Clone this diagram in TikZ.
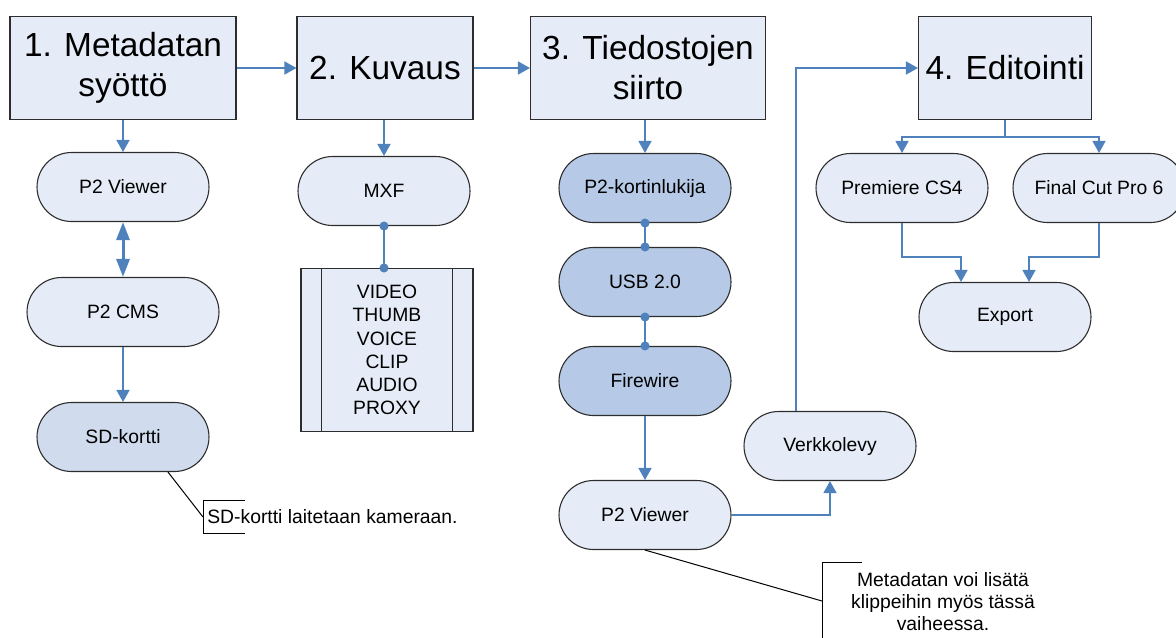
\documentclass[tikz,border=0pt]{standalone}
\usepackage{fontspec}
\setmainfont{Liberation Sans}
\usepackage{tikz}
\usetikzlibrary{arrows.meta}
\usetikzlibrary{shapes.misc}
\definecolor{paleblue}{RGB}{230,236,247}
\definecolor{cardblue}{RGB}{208,220,238}
\definecolor{busblue}{RGB}{182,201,230}
\definecolor{linkblue}{RGB}{79,129,189}
\definecolor{rim}{RGB}{45,45,45}
\tikzset{
	stage/.style={
		rectangle,
		draw=rim,
		fill=paleblue,
		line width=.22mm,
		minimum height=2.06cm,
		inner sep=0,
		align=center,
		font=\fontsize{19}{22.7}\selectfont,
	},
	pill/.style={
		rounded rectangle,
		draw=rim,
		fill=paleblue,
		line width=.22mm,
		minimum width=3.44cm,
		minimum height=1.38cm,
		inner sep=0,
		font=\fontsize{11}{12.8}\selectfont,
	},
	link/.style={
		draw=linkblue,
		line width=.3mm,
		-{Triangle[width=2.6mm,length=2.4mm]},
	},
	joint/.style={
		draw=linkblue,
		line width=.3mm,
		{Circle[length=1.8mm]}-{Circle[length=1.8mm]},
		shorten <=-.9mm,
		shorten >=-.9mm,
	},
	note/.style={
		line width=.2mm,
	},
	notetext/.style={
		inner sep=0,
		align=center,
		font=\fontsize{11}{12.5}\selectfont,
	}
}
\begin{document}
\begin{tikzpicture}[x=0.02cm,y=-0.02cm]
	\useasboundingbox (0,0) rectangle (1176,637);
	\clip (0,0) rectangle (1176,637);

	\node[stage,minimum width=4.52cm] (s1) at (123,68) {1. Metadatan\\syöttö};
	\node[stage,minimum width=3.52cm] (s2) at (385,68) {2. Kuvaus};
	\node[stage,minimum width=4.70cm] (s3) at (648,68) {3. Tiedostojen\\siirto};
	\node[stage,minimum width=3.46cm] (s4) at (1005,68) {4. Editointi};

	% metadata column
	\node[pill] (view1) at (123,187) {P2 Viewer};
	\node[pill,minimum width=3.84cm] (cms) at (123,312) {P2 CMS};
	\node[pill,fill=cardblue] (sd) at (123,437) {SD-kortti};

	% shooting column
	\node[pill] (mxf) at (384,191) {MXF};
	\node[rectangle,draw=rim,fill=paleblue,line width=.22mm,minimum width=3.44cm,minimum height=3.26cm,inner sep=0,
		font=\fontsize{11}{13.2}\selectfont,align=center] (files) at (387,350) {VIDEO\\THUMB\\VOICE\\CLIP\\AUDIO\\PROXY};
	\draw[rim,line width=.22mm] ([xshift=.42cm]files.north west) -- ([xshift=.42cm]files.south west);
	\draw[rim,line width=.22mm] ([xshift=-.42cm]files.north east) -- ([xshift=-.42cm]files.south east);

	% transfer column
	\node[pill,fill=busblue] (reader) at (645,188) {P2-kortinlukija};
	\node[pill,fill=busblue] (usb) at (645,282) {USB 2.0};
	\node[pill,fill=busblue] (fw) at (645,381) {Firewire};
	\node[pill] (view2) at (645,515) {P2 Viewer};
	\node[pill] (disk) at (830,446) {Verkkolevy};
	\coordinate (bend) at (796,68);

	% editing column
	\node[pill] (prem) at (902,188) {Premiere CS4};
	\node[pill] (fcp) at (1099,188) {Final Cut Pro 6};
	\node[pill] (export) at (1005,317) {Export};
	\coordinate (fork) at (1005,137);

	\draw[link] (s1.east) -- (s2.west);
	\draw[link] (s2.east) -- (s3.west);

	\draw[link] (s1.south) -- (view1.north);
	\draw[draw=linkblue,line width=.6mm,{Triangle[width=2.6mm,length=3.6mm]}-{Triangle[width=2.6mm,length=3.6mm]}] (view1.south) -- (cms.north);
	\draw[link] (cms.south) -- (sd.north);

	\draw[link] (mxf.north |- s2.south) -- (mxf.north);
	\draw[joint] (mxf.south) -- (mxf.south |- files.north);

	\draw[link] (reader.north |- s3.south) -- (reader.north);
	\draw[joint] (reader.south) -- (usb.north);
	\draw[joint] (usb.south) -- (fw.north);
	\draw[link] (fw.south) -- (view2.north);
	\draw[link] (view2.east) -| (disk.south);
	\draw[link] (bend |- disk.north) |- (s4.west);

	\draw[link] (s4.south) -- (fork) -| (prem.north);
	\draw[link] (fork) -| (fcp.north);
	\draw[link] (prem.south) -- ++(0,34) -| ([xshift=-.88cm]export.north);
	\draw[link] (fcp.south) -- ++(0,34) -| ([xshift=.48cm]export.north);

	% notes
	\node[notetext,anchor=west] (sdnote) at (207,517) {SD-kortti laitetaan kameraan.};
	\draw[note] (245,500) -- (203,500) -- (203,533) -- (245,533);
	\draw[note] ([xshift=.9cm]sd.south) -- (203,517);

	\node[notetext] (viewnote) at (943,602) {Metadatan voi lisätä\\klippeihin myös tässä\\vaiheessa.};
	\draw[note] (862,562) -- (822,562) -- (822,642) -- (862,642);
	\draw[note] (view2.south) -- (822,601);
\end{tikzpicture}
\end{document}
